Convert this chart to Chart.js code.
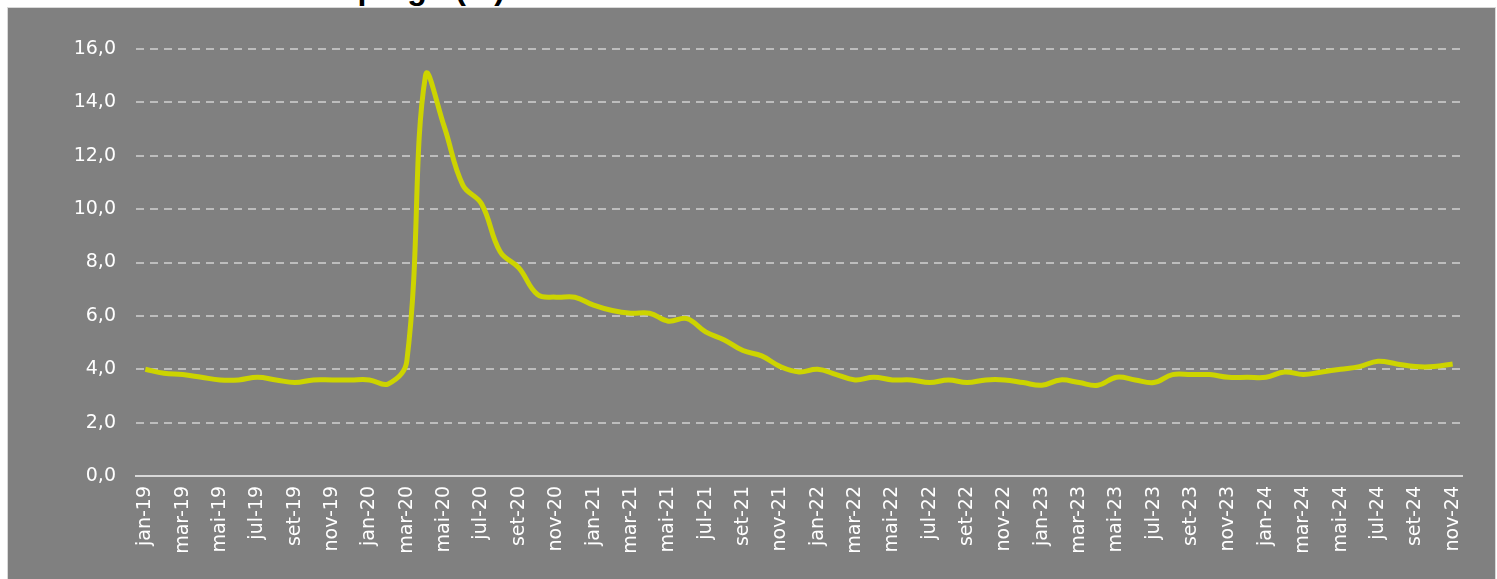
<!DOCTYPE html>
<html>
<head>
<meta charset="utf-8">
<script src="https://cdn.jsdelivr.net/npm/chart.js@4/dist/chart.umd.min.js"></script>
<style>
  html, body { margin: 0; padding: 0; background: #fff; overflow: hidden; }
  body { width: 1497px; height: 579px; position: relative; }
  #title {
    position: absolute; right: 992px; top: -28px;
    font: bold 32px "Liberation Sans", Arial, sans-serif; line-height: 32px;
    color: #000; white-space: nowrap;
  }
  #panel {
    position: absolute; left: 7px; top: 7px; width: 1487px; height: 580px;
    background: #808080; border: 1px solid #d9d9d9;
  }
  #wrap { position: absolute; left: 9px; top: 9px; width: 1488px; height: 570px; }
</style>
</head>
<body>
<div id="title">Taxa de desemprego (%)</div>
<div id="panel"></div>
<div id="wrap"><canvas id="chart"></canvas></div>
<script>
// months Jan-2019 .. Nov-2024
const MONTHS = ["jan", "fev", "mar", "abr", "mai", "jun", "jul", "ago", "set", "out", "nov", "dez"];
const YEARS = ["19", "20", "21", "22", "23", "24"];

const rate2019 = [4.0, 3.85, 3.8, 3.7, 3.6, 3.6, 3.7, 3.6, 3.5, 3.6, 3.6, 3.6];
const rate2020 = [3.6, 3.45, 4.3, 15.0, 13.1, 10.9, 10.2, 8.4, 7.8, 6.8, 6.7, 6.7];
const rate2021 = [6.4, 6.2, 6.1, 6.1, 5.8, 5.9, 5.4, 5.1, 4.7, 4.5, 4.1, 3.9];
const rate2022 = [4.0, 3.8, 3.6, 3.7, 3.6, 3.6, 3.5, 3.6, 3.5, 3.6, 3.6, 3.5];
const rate2023 = [3.4, 3.6, 3.5, 3.4, 3.7, 3.6, 3.5, 3.8, 3.8, 3.8, 3.7, 3.7];
const rate2024 = [3.7, 3.9, 3.8, 3.9, 4.0, 4.1, 4.3, 4.2, 4.1, 4.1, 4.2];

const values = [...rate2019, ...rate2020, ...rate2021, ...rate2022, ...rate2023, ...rate2024];
const labels = [];
for (const y of YEARS) {
  for (const m of MONTHS) {
    if (labels.length < values.length) labels.push(m + "-" + y);
  }
}

const FONT = { family: "'DejaVu Sans', Verdana, sans-serif", size: 19 };

new Chart(document.getElementById("chart"), {
  type: "line",
  data: {
    labels,
    datasets: [{
      data: values,
      borderColor: "#cdd400",
      borderWidth: 5,
      tension: 0.4,
      pointRadius: 0,
      fill: false,
    }],
  },
  options: {
    responsive: true,
    maintainAspectRatio: false,
    animation: false,
    layout: { padding: { top: 40, right: 35, left: 0, bottom: 0 } },
    plugins: { legend: { display: false }, tooltip: { enabled: false } },
    scales: {
      x: {
        offset: true,
        grid: { display: false, drawTicks: false },
        border: { display: true, color: "#d9d9d9", width: 2 },
        ticks: {
          color: "#fff",
          font: FONT,
          autoSkip: false,
          minRotation: 90,
          maxRotation: 90,
          padding: 10,
          callback: (v, i) => (i % 2 === 0 ? labels[i] : ""),
        },
        afterFit: (s) => { s.height = 103; },
      },
      y: {
        min: 0,
        max: 16,
        grid: { color: "#bdbdbd", lineWidth: 2, drawTicks: false },
        border: { display: false, dash: [8, 6] },
        ticks: {
          stepSize: 2,
          color: "#fff",
          font: FONT,
          padding: 20,
          callback: (v) => v.toFixed(1).replace(".", ","),
        },
        afterFit: (s) => { s.width = 127; },
      },
    },
  },
});
</script>
</body>
</html>
